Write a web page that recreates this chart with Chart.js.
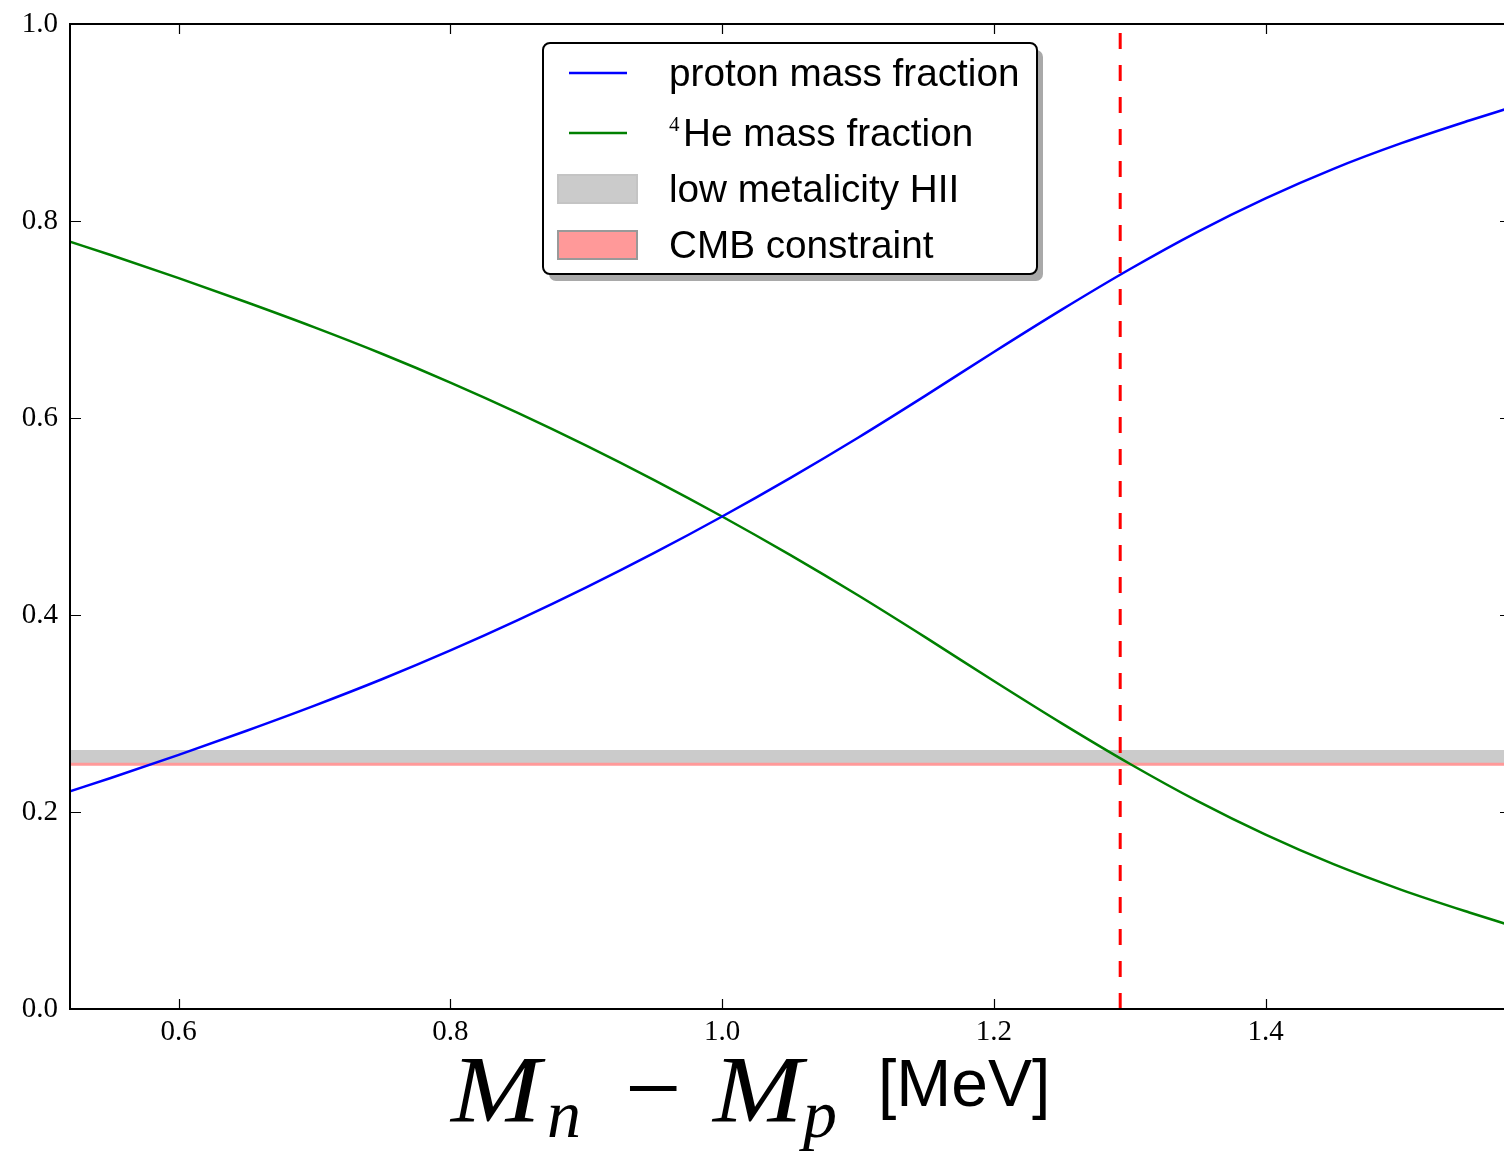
<!DOCTYPE html>
<html lang="en">
<head>
<meta charset="UTF-8">
<title>Mass fractions vs Mn - Mp</title>
<script src="https://cdn.jsdelivr.net/npm/chart.js"></script>
<style>
  html, body { margin: 0; padding: 0; background: #fff; overflow: hidden; }
  #wrap { width: 1504px; height: 1152px; }
</style>
</head>
<body>
<div id="wrap"><canvas id="bbnChart"></canvas></div>

<script>
  // values
  const massDiff   = [0.52, 0.55, 0.60, 0.65, 0.70, 0.75, 0.80, 0.85, 0.90, 0.95, 1.00, 1.05,
                      1.10, 1.15, 1.20, 1.25, 1.30, 1.35, 1.40, 1.45, 1.50, 1.55, 1.58];
  const protonFrac = [0.221, 0.2345, 0.258, 0.2825, 0.308, 0.335, 0.364, 0.395, 0.428, 0.463, 0.500, 0.539,
                      0.580, 0.623, 0.667, 0.710, 0.751, 0.789, 0.823, 0.853, 0.879, 0.902, 0.915];
  const heliumFrac = [0.779, 0.7655, 0.742, 0.7175, 0.692, 0.665, 0.636, 0.605, 0.572, 0.537, 0.500, 0.461,
                      0.420, 0.377, 0.333, 0.290, 0.249, 0.211, 0.177, 0.147, 0.121, 0.098, 0.085];
  const xTicks = [0.6, 0.8, 1.0, 1.2, 1.4];
  const yTicks = [0.0, 0.2, 0.4, 0.6, 0.8, 1.0];
  const xLimits = [0.52, 1.5755];
  const yLimits = [0, 1];
  const physicalDiff = 1.293;          // measured Mn - Mp
  const hiiBand = [0.250, 0.263];      // low metalicity HII regions
  const cmbBand = [0.247, 0.251];      // CMB constraint

  const seriesPoints = (xs, ys) => xs.map((x, i) => ({ x: x, y: ys[i] }));
  const bandPoints = (top) => xLimits.map(x => ({ x: x, y: top }));

  // inward ticks + spines, matplotlib style
  const framePlugin = {
    id: 'frame',
    afterDatasetsDraw(chart) {
      const { ctx, chartArea: a, scales } = chart;
      ctx.save();
      ctx.strokeStyle = '#000';
      ctx.lineWidth = 1.2;
      ctx.beginPath();
      xTicks.forEach(v => {
        const px = Math.round(scales.x.getPixelForValue(v)) + 0.5;
        ctx.moveTo(px, a.bottom); ctx.lineTo(px, a.bottom - 10);
        ctx.moveTo(px, a.top); ctx.lineTo(px, a.top + 10);
      });
      yTicks.forEach(v => {
        const py = Math.round(scales.y.getPixelForValue(v)) + 0.5;
        ctx.moveTo(a.left, py); ctx.lineTo(a.left + 11, py);
        ctx.moveTo(a.right - 4, py); ctx.lineTo(a.right, py);
      });
      ctx.stroke();

      ctx.lineWidth = 2;
      ctx.beginPath();
      ctx.moveTo(a.right, a.top);
      ctx.lineTo(a.left, a.top);
      ctx.lineTo(a.left, a.bottom);
      ctx.lineTo(a.right, a.bottom);
      ctx.stroke();
      ctx.restore();
    }
  };

  // x label: M_n - M_p [MeV]
  const titlePlugin = {
    id: 'xTitle',
    afterDraw(chart) {
      const ctx = chart.ctx;
      ctx.save();
      ctx.fillStyle = '#000';
      ctx.textAlign = 'left';
      ctx.textBaseline = 'alphabetic';
      const base = 1122;
      const bigM = (x) => {
        ctx.save();
        ctx.translate(x, base);
        ctx.scale(1.12, 1);
        ctx.font = 'italic 96px "Liberation Serif"';
        ctx.fillText('M', 0, 0);
        ctx.restore();
      };
      bigM(451);
      ctx.font = 'italic 68px "Liberation Serif"';
      ctx.fillText('n', 547, 1137);
      ctx.font = '100px "Liberation Serif"';
      ctx.fillText('\u2212', 625, base);
      bigM(713);
      ctx.font = 'italic 68px "Liberation Serif"';
      ctx.fillText('p', 803, 1137);
      ctx.font = '66px "Liberation Sans"';
      ctx.fillText('[MeV]', 878, 1106);
      ctx.restore();
    }
  };

  // framed legend with drop shadow
  const legendPlugin = {
    id: 'boxLegend',
    afterDraw(chart) {
      const ctx = chart.ctx;
      const box = { x: 543, y: 43, w: 494, h: 231, r: 7 };
      const rowY = [73, 133, 189, 245];
      const entries = chart.data.datasets.filter(d => d.label);

      const rounded = (x, y, w, h, r) => {
        ctx.beginPath();
        ctx.moveTo(x + r, y);
        ctx.arcTo(x + w, y, x + w, y + h, r);
        ctx.arcTo(x + w, y + h, x, y + h, r);
        ctx.arcTo(x, y + h, x, y, r);
        ctx.arcTo(x, y, x + w, y, r);
        ctx.closePath();
      };

      ctx.save();
      rounded(box.x + 6, box.y + 7, box.w, box.h, box.r);
      ctx.fillStyle = '#a9a9a9';
      ctx.fill();
      rounded(box.x, box.y, box.w, box.h, box.r);
      ctx.fillStyle = '#fff';
      ctx.fill();
      ctx.lineWidth = 2;
      ctx.strokeStyle = '#000';
      ctx.stroke();

      entries.forEach((d, i) => {
        const cy = rowY[i];
        if (d.legendKind === 'line') {
          ctx.strokeStyle = d.borderColor;
          ctx.lineWidth = 2.5;
          ctx.beginPath();
          ctx.moveTo(569, cy); ctx.lineTo(627, cy);
          ctx.stroke();
        } else {
          ctx.fillStyle = d.backgroundColor;
          ctx.fillRect(557, cy - 15, 81, 30);
          ctx.strokeStyle = d.legendEdge;
          ctx.lineWidth = 2;
          ctx.strokeRect(558, cy - 14, 79, 28);
        }
        ctx.fillStyle = '#000';
        ctx.textAlign = 'left';
        ctx.textBaseline = 'alphabetic';
        let tx = 669;
        let text = d.label;
        if (text.startsWith('\u2074')) {
          ctx.font = '21px "Liberation Serif"';
          ctx.fillText('4', tx, cy - 2);
          tx += 14;
          text = text.slice(1);
        }
        ctx.font = '38.7px "Liberation Sans"';
        ctx.fillText(text, tx, cy + 13);
      });
      ctx.restore();
    }
  };

  new Chart(document.getElementById('bbnChart'), {
    type: 'line',
    data: {
      datasets: [
        {
          label: 'proton mass fraction',
          legendKind: 'line',
          data: seriesPoints(massDiff, protonFrac),
          borderColor: '#0000ff',
          borderWidth: 2.5,
          pointRadius: 0,
          cubicInterpolationMode: 'monotone',
          fill: false,
          order: 2
        },
        {
          label: '\u2074He mass fraction',
          legendKind: 'line',
          data: seriesPoints(massDiff, heliumFrac),
          borderColor: '#008000',
          borderWidth: 2.5,
          pointRadius: 0,
          cubicInterpolationMode: 'monotone',
          fill: false,
          order: 3
        },
        {
          label: '',
          data: [{ x: physicalDiff, y: yLimits[0] }, { x: physicalDiff, y: yLimits[1] }],
          borderColor: '#ff0000',
          borderWidth: 3,
          borderDash: [16, 16],
          pointRadius: 0,
          fill: false,
          order: 1
        },
        {
          label: 'low metalicity HII',
          legendKind: 'patch',
          legendEdge: '#c4c4c4',
          data: bandPoints(hiiBand[1]),
          borderWidth: 0,
          borderColor: 'rgba(0,0,0,0)',
          backgroundColor: '#cbcbcb',
          pointRadius: 0,
          fill: { value: hiiBand[0] },
          order: 10
        },
        {
          label: 'CMB constraint',
          legendKind: 'patch',
          legendEdge: '#999999',
          data: bandPoints(cmbBand[1]),
          borderWidth: 0,
          borderColor: 'rgba(0,0,0,0)',
          backgroundColor: '#ff9999',
          pointRadius: 0,
          fill: { value: cmbBand[0] },
          order: 11
        }
      ]
    },
    options: {
      responsive: true,
      maintainAspectRatio: false,
      animation: false,
      layout: { padding: { top: 24, right: 0, bottom: 0, left: 0 } },
      plugins: {
        legend: { display: false },
        tooltip: { enabled: false },
        title: { display: false }
      },
      scales: {
        x: {
          type: 'linear',
          min: xLimits[0],
          max: xLimits[1],
          grid: { display: false, drawTicks: false },
          border: { display: false },
          afterBuildTicks: (axis) => { axis.ticks = xTicks.map(v => ({ value: v })); },
          afterFit: (axis) => {
            axis.height = 143;
            axis.paddingLeft = 0; axis.paddingRight = 0;
          },
          ticks: {
            padding: 6,
            color: '#000',
            font: { family: '"Liberation Serif"', size: 29 },
            callback: (v) => Number(v).toFixed(1)
          }
        },
        y: {
          type: 'linear',
          min: yLimits[0],
          max: yLimits[1],
          grid: { display: false, drawTicks: false },
          border: { display: false },
          afterBuildTicks: (axis) => { axis.ticks = yTicks.map(v => ({ value: v })); },
          afterFit: (axis) => {
            axis.width = 70;
            axis.paddingTop = 0; axis.paddingBottom = 0;
          },
          ticks: {
            padding: 12,
            color: '#000',
            font: { family: '"Liberation Serif"', size: 29 },
            callback: (v) => Number(v).toFixed(1)
          }
        }
      }
    },
    plugins: [framePlugin, titlePlugin, legendPlugin]
  });
</script>
</body>
</html>
